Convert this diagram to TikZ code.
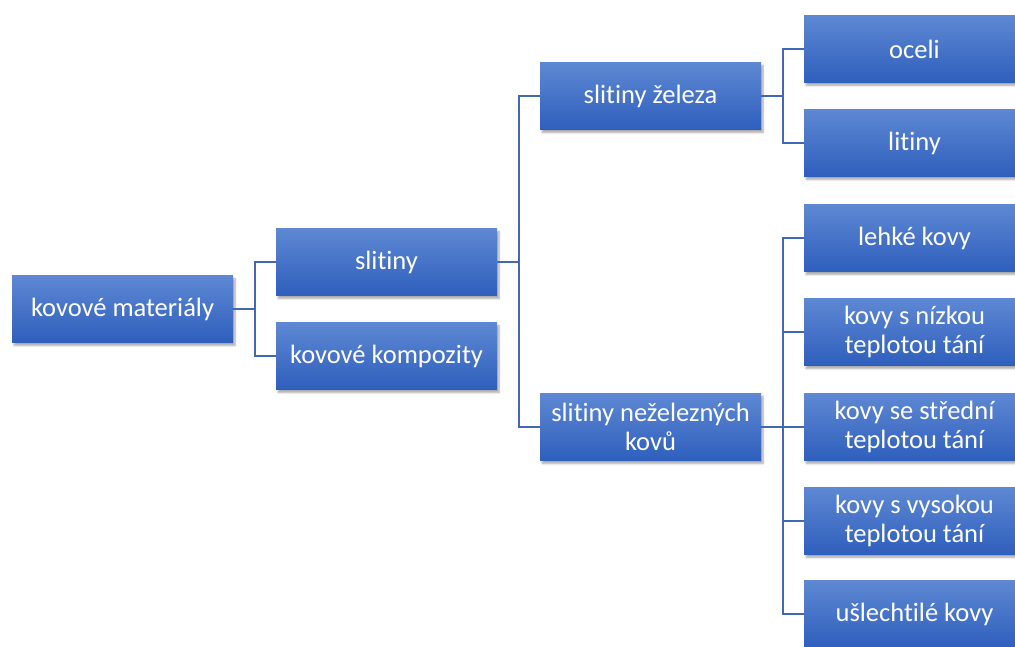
\documentclass[tikz,border=0pt]{standalone}
\usepackage{fontspec}
\setmainfont{Carlito}[Ligatures=NoCommon]
\usetikzlibrary{shadows.blur}
\definecolor{boxtop}{RGB}{94,136,211}
\definecolor{boxbot}{RGB}{47,95,189}
\definecolor{linkcol}{RGB}{64,104,180}
\tikzset{
    box/.style={rectangle, minimum width=221pt, minimum height=67pt, inner sep=2pt,
        top color=boxtop, bottom color=boxbot, draw=none, text=white, align=center,
        font=\fontsize{26.5}{29}\selectfont,
        blur shadow={shadow blur steps=6, shadow xshift=2pt, shadow yshift=-3pt, shadow opacity=35}},
    link/.style={draw=linkcol, line width=2.2pt}
}
\begin{document}
\begin{tikzpicture}[x=1pt, y=-1pt]
        \useasboundingbox (0, 0) rectangle (1015, 646);

        % levels from left to right
        \node[box] (kovmat) at (122.5, 309) {kovové materiály};

        \node[box] (slit) at (386.5, 262) {slitiny};
        \node[box] (komp) at (386.5, 356) {kovové kompozity};

        \node[box] (zel) at (650.5, 96) {slitiny železa};
        \node[box] (nezel) at (650.5, 427) {slitiny neželezných\\kovů};

        \node[box] (oceli) at (914.5, 49) {oceli};
        \node[box] (litiny) at (914.5, 143) {litiny};
        \node[box] (lehke) at (914.5, 238) {lehké kovy};
        \node[box] (nizka) at (914.5, 332) {kovy s nízkou\\teplotou tání};
        \node[box] (stredni) at (914.5, 427) {kovy se střední\\teplotou tání};
        \node[box] (vysoka) at (914.5, 521) {kovy s vysokou\\teplotou tání};
        \node[box] (uslecht) at (914.5, 614) {ušlechtilé kovy};

        % connectors
        \draw[link] (kovmat.east) -- ++(22, 0) |- (slit.west);
        \draw[link] (kovmat.east) -- ++(22, 0) |- (komp.west);

        \draw[link] (slit.east) -- ++(22, 0) |- (zel.west);
        \draw[link] (slit.east) -- ++(22, 0) |- (nezel.west);

        \draw[link] (zel.east) -- ++(22, 0) |- (oceli.west);
        \draw[link] (zel.east) -- ++(22, 0) |- (litiny.west);

        \foreach \leaf in {lehke, nizka, stredni, vysoka, uslecht}
            \draw[link] (nezel.east) -- ++(22, 0) |- (\leaf.west);

    \end{tikzpicture}
\end{document}
